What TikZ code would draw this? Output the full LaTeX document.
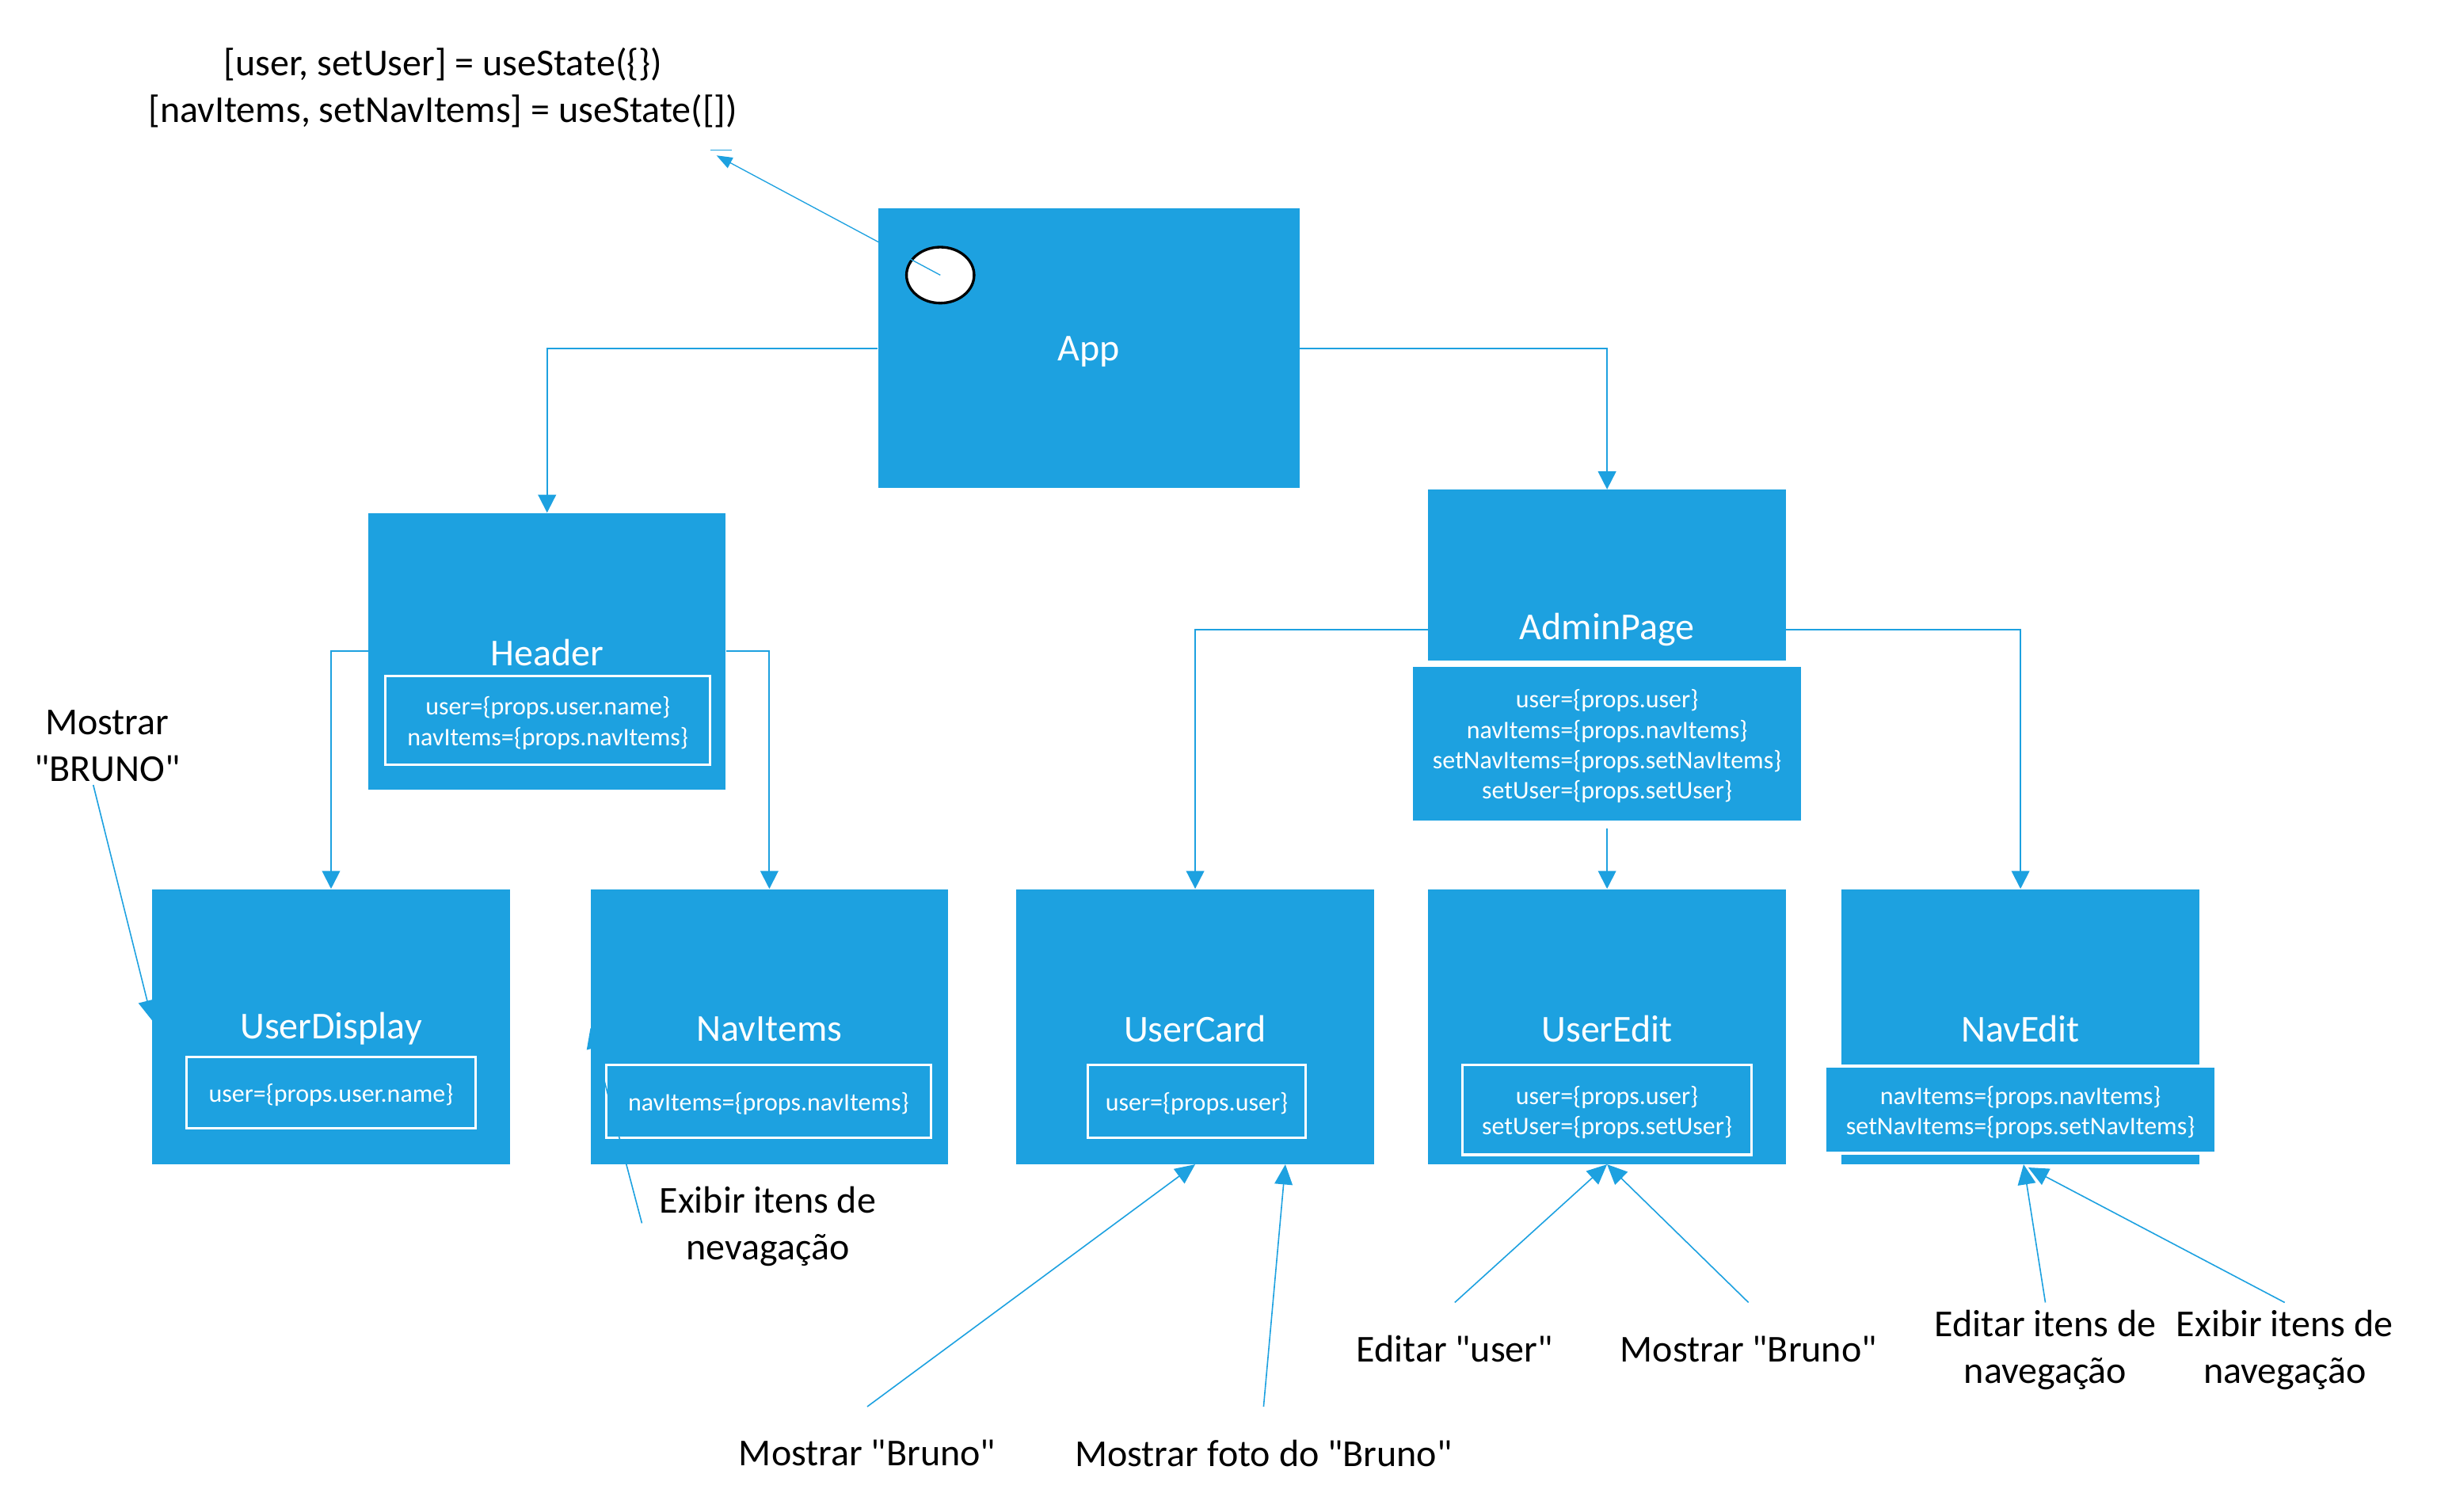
\documentclass[tikz,border=0pt]{standalone}
\usepackage{fontspec}
\setmainfont{Carlito}[Ligatures=TeXOff]
\usetikzlibrary{arrows.meta,calc,shapes.geometric}
\definecolor{mblue}{RGB}{29,161,224}
\begin{document}
\begin{tikzpicture}[x=1.4718pt,y=-1.4718pt,
  comp/.style={fill=mblue, draw=none, inner sep=0pt},
  ttl/.style={text=white, font=\fontsize{36}{43}\selectfont, inner sep=0pt, yshift=-3pt},
  propbox/.style={draw=white, line width=2.5pt, inner sep=0pt},
  propboxfill/.style={propbox, fill=mblue, line width=3pt},
  proptext/.style={text=white, align=center, inner sep=0pt, font=\fontsize{24}{28.8}\selectfont, yshift=-2.5pt},
  note/.style={align=center, font=\fontsize{36}{44.5}\selectfont, inner sep=0pt},
  notetwo/.style={note, yshift=-3pt},
  link/.style={draw=mblue, line width=1.5pt, -{Triangle[length=17pt,width=17pt]}},
  thin link/.style={draw=mblue, line width=1.2pt, -{Triangle[length=19pt,width=17pt]}},
]
\useasboundingbox (0,0) rectangle (1568,972.3);

% components
\node[comp, minimum width=398.9pt, minimum height=264.9pt] (app) at (700.5,224) {};
\node[ttl] (apptitle) at (app.center) {App};

\node[comp, minimum width=338.5pt, minimum height=262pt] (header) at (352,419) {};
\node[ttl] (headertitle) at (352,418) {Header};
\node[propbox, minimum width=307.6pt, minimum height=83.9pt] (headerprops) at (352.5,463.5) {};
\node[proptext] (headerpropstext) at (headerprops.center) {user=\{props.user.name\}\\navItems=\{props.navItems\}};

\node[comp, minimum width=338.5pt, minimum height=161.9pt] (admin) at (1034,370) {};
\node[ttl] (admintitle) at (1034,403) {AdminPage};
\node[propboxfill, minimum width=370.9pt, minimum height=148.7pt] (adminprops) at (1034,478.5) {};
\node[proptext] (adminpropstext) at (adminprops.center) {user=\{props.user\}\\navItems=\{props.navItems\}\\setNavItems=\{props.setNavItems\}\\setUser=\{props.setUser\}};

\node[comp, minimum width=338.5pt, minimum height=260.5pt] (userdisplay) at (213,660.5) {};
\node[ttl] (userdisplaytitle) at (213,660) {UserDisplay};
\node[propbox, minimum width=273.8pt, minimum height=67.7pt] (userdisplayprops) at (213,703) {};
\node[proptext] (userdisplaypropstext) at (userdisplayprops.center) {user=\{props.user.name\}};

\node[comp, minimum width=338.5pt, minimum height=260.5pt] (navitems) at (495,660.5) {};
\node[ttl] (navitemstitle) at (495,660) {NavItems};
\node[propbox, minimum width=307.6pt, minimum height=69.2pt] (navitemsprops) at (494.5,708.5) {};
\node[proptext] (navitemspropstext) at (navitemsprops.center) {navItems=\{props.navItems\}};

\node[comp, minimum width=338.5pt, minimum height=260.5pt] (usercard) at (769,660.5) {};
\node[ttl] (usercardtitle) at (769,660) {UserCard};
\node[propbox, minimum width=206.1pt, minimum height=69.2pt] (usercardprops) at (770,708.5) {};
\node[proptext] (usercardpropstext) at (usercardprops.center) {user=\{props.user\}};

\node[comp, minimum width=338.5pt, minimum height=260.5pt] (useredit) at (1034,660.5) {};
\node[ttl] (useredittitle) at (1034,660) {UserEdit};
\node[propbox, minimum width=273.8pt, minimum height=85.4pt] (usereditprops) at (1034,714) {};
\node[proptext] (usereditpropstext) at (usereditprops.center) {user=\{props.user\}\\setUser=\{props.setUser\}};

\node[comp, minimum width=338.5pt, minimum height=260.5pt] (navedit) at (1300,660.5) {};
\node[ttl] (navedittitle) at (1300,660) {NavEdit};
\node[propboxfill, minimum width=370.9pt, minimum height=82.4pt] (naveditprops) at (1300,714) {};
\node[proptext] (naveditpropstext) at (naveditprops.center) {navItems=\{props.navItems\}\\setNavItems=\{props.setNavItems\}};

% state
\node[ellipse, draw=black, fill=white, line width=2.5pt, minimum width=64pt, minimum height=53pt, inner sep=0pt] (state) at (605,177) {};
\node[notetwo, yshift=1pt] (statetext) at (285,55) {[user, setUser] = useState(\{\})\\{}[navItems, setNavItems] = useState([])};
\coordinate (statetip) at (461,100);
\coordinate (dashA) at (457,96.5);
\coordinate (dashB) at (471,96.5);
\draw[draw=mblue, line width=1pt, -{Triangle[length=15pt,width=11pt]}] (state.center) -- (statetip);
\draw[draw=mblue, line width=1.3pt] (dashA) -- (dashB);

% tree connectors
\draw[link] (app.west) -| (header.north);
\draw[link] (app.east) -| (admin.north);
\draw[link] (header.west) -| (userdisplay.north);
\draw[link] (header.east) -| (navitems.north);
\draw[link] (admin.west |- admintitle.center) -| (usercard.north);
\draw[link] (admin.east |- admintitle.center) -| (navedit.north);
\draw[link] ($(adminprops.south)+(0,3)$) -- (useredit.north);

% annotations
\node[notetwo] (mostrar) at (69,478) {Mostrar\\"BRUNO"};
\node[notetwo] (exibir1) at (494,787) {Exibir itens de\\nevagação};
\node[note] (mbruno1) at (558,935) {Mostrar "Bruno"};
\node[note] (mfoto) at (813,935) {Mostrar foto do "Bruno"};
\node[note] (euser) at (936,868) {Editar "user"};
\node[note] (mbruno2) at (1125,868) {Mostrar "Bruno"};
\node[notetwo] (eitens) at (1316,866.5) {Editar itens de\\navegação};
\node[notetwo] (exibir2) at (1470,866.5) {Exibir itens de\\navegação};

\coordinate (s1) at (60,505);
\coordinate (s2) at (413,787);
\coordinate (s3) at (558,905);
\coordinate (s4) at (813,905);
\coordinate (s5) at (936,838);
\coordinate (s6) at (1125,838);
\coordinate (s7) at (1316,838);
\coordinate (s8) at (1470,838);

\draw[thin link] (s1) -- ($(userdisplay.west)+(0,-4)$);
\draw[thin link] (s2) -- ($(navitems.west)+(0,1)$);
\draw[thin link] (s3) -- (usercard.south);
\draw[thin link] (s4) -- ($(usercard.south)+(58,0)$);
\draw[thin link] (s5) -- (useredit.south);
\draw[thin link] (s6) -- (useredit.south);
\draw[thin link] (s7) -- ($(navedit.south)+(2,0)$);
\draw[thin link] (s8) -- ($(navedit.south)+(5,2)$);
\end{tikzpicture}
\end{document}
